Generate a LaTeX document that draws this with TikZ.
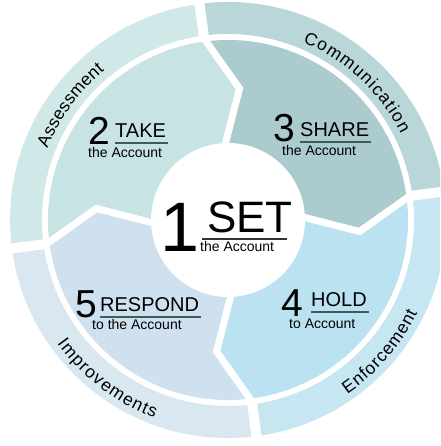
\documentclass[tikz,border=0pt]{standalone}
\usepackage{fontspec}
\setmainfont{Liberation Sans}
\usepackage{tikz}
\usetikzlibrary{decorations.text}
\definecolor{ringA}{HTML}{D1E8E9}
\definecolor{segA}{HTML}{C7E3E4}
\definecolor{ringC}{HTML}{B9D6D9}
\definecolor{segC}{HTML}{ABCBCF}
\definecolor{ringE}{HTML}{C6E6F1}
\definecolor{segE}{HTML}{BBE2F0}
\definecolor{ringI}{HTML}{D9E7F1}
\definecolor{segI}{HTML}{CFE0EE}
\definecolor{ul}{HTML}{3D5A5C}
\newcommand{\ringsz}{\fontsize{17.5}{17.5}\selectfont}
\tikzset{
  cut/.style={white, line width=7pt, line join=miter},
  ringcut/.style={white, line width=10pt},
  digit/.style={font=\fontsize{39}{39}\selectfont, inner sep=0pt},
  word/.style={font=\fontsize{20}{20}\selectfont, inner sep=0pt},
  sub/.style={font=\fontsize{14}{14}\selectfont, inner sep=0pt},
  uline/.style={draw=ul, line width=2pt},
  ringtext/.style 2 args={decorate, decoration={text along path, text align=center, text={|\ringsz\kern#2pt|#1}}},
}
\newcommand{\stage}[7]{%
  \node[word, anchor=base west] (#1) at (#2) {#6};
  \node[digit, anchor=base east] (#1num) at (#3) {#5};
  \node[sub, anchor=base west] (#1sub) at (#4) {#7};
  \draw[uline] ([yshift=-5.5pt]#1.base west) -- ([yshift=-5.5pt,xshift=2pt]#1.base east);}

\begin{document}
\begin{tikzpicture}[x=1pt,y=1pt]
  \useasboundingbox (-228,-226) rectangle (212,220);
  \clip (-228,-226) rectangle (212,220);
  \foreach \a/\ring/\seg in {187.5/ringA/segA, 97.5/ringC/segC, 7.5/ringE/segE, -82.5/ringI/segI} {
    \fill[\ring] (\a:186) arc[start angle=\a, end angle=\a-90, radius=186]
      -- (\a-90:218) arc[start angle=\a-90, end angle=\a, radius=218] -- cycle;
    \fill[\seg] (\a:180) arc[start angle=\a, end angle=\a-90, radius=180]
      -- (\a-102.5:132) -- (\a-94:77) -- (0,0) -- (\a-4:77) -- (\a-12.5:132) -- cycle;
  }
  \foreach \a in {187.5, 97.5, 7.5, -82.5} {
    \draw[ringcut] (\a:181) -- (\a:226);
    \draw[cut] (\a:183) -- (\a-12.5:132) -- (\a-4:70);
  }
  \fill[white] (0,0) circle[radius=77];
  \path[ringtext={Assessment}{0.3}] (189:194) arc[start angle=189, end angle=99, radius=194];
  \path[ringtext={Communication}{1.3}] (92:193) arc[start angle=92, end angle=2, radius=193];
  \path[ringtext={Enforcement}{0.9}] (-86:211) arc[start angle=-86, end angle=4, radius=211];
  \path[ringtext={Improvements}{1.2}] (187.6:211) arc[start angle=187.6, end angle=277.6, radius=211];
  \node[font=\fontsize{44}{44}\selectfont, inner sep=0pt, anchor=base west] (set) at (-21,-13) {SET};
  \node[font=\fontsize{70}{70}\selectfont, inner sep=0pt, anchor=base east] (setnum) at (-28,-32) {1};
  \node[sub, anchor=base west] (setsub) at (-28,-32) {the Account};
  \draw[draw=black!80, line width=1.2pt] ([yshift=-6pt,xshift=-5pt]set.base west) -- ([yshift=-6pt,xshift=-6pt]set.base east);
  \stage{take}{-113,82}{-118,75}{-140,62}{2}{TAKE}{the Account}
  \stage{share}{72,83}{67,78}{54,64}{3}{SHARE}{the Account}
  \stage{hold}{83,-87}{75,-97}{61,-108}{4}{HOLD}{to Account}
  \stage{respond}{-128,-92}{-131,-98}{-136,-110}{5}{RESPOND}{to the Account}
\end{tikzpicture}
\end{document}
